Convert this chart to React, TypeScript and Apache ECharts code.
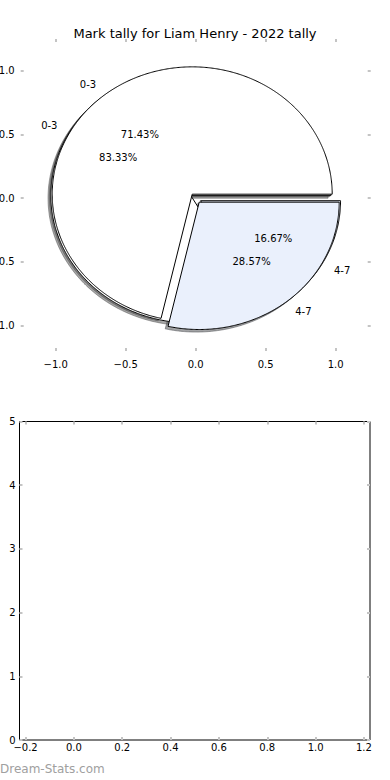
import React, { useEffect, useRef } from 'react';
import * as echarts from 'echarts';

const TITLE = 'Mark tally for Liam Henry - 2022 tally';
const WATERMARK = 'Dream-Stats.com';
const CATEGORIES = ['0-3', '4-7'];
// pie drawn on top (71.43% / 28.57%)
const PIE_A_VALUES = [5, 2];
// pie drawn underneath (83.33% / 16.67%)
const PIE_B_VALUES = [5, 1];
const WEDGE_COLORS = ['#ffffff', '#eaf0fc'];
const EXPLODE = [0.04, 0.04];
const PIE_X_TICKS = [-1, -0.5, 0, 0.5, 1];
const PIE_Y_TICKS = [-1, -0.5, 0, 0.5, 1];
const EMPTY_X_TICKS = [-0.2, 0, 0.2, 0.4, 0.6, 0.8, 1.0, 1.2];
const EMPTY_Y_TICKS = [0, 1, 2, 3, 4, 5];

const FONT = 'DejaVu Sans';
const TICK_COLOR = '#c4c4c4';

type Wedge = {
  t1: number; t2: number; cx: number; cy: number; tm: number;
  pct: number; label: string; color: string;
};

function buildWedges(values: number[]): Wedge[] {
  const total = values.reduce((a, b) => a + b, 0);
  let cum = 0;
  return values.map((v, i) => {
    const t1 = (360 * cum) / total;
    cum += v;
    const t2 = (360 * cum) / total;
    const tm = (((t1 + t2) / 2) * Math.PI) / 180;
    const ex = EXPLODE[i];
    return {
      t1, t2, tm,
      cx: ex * Math.cos(tm), cy: ex * Math.sin(tm),
      pct: (v / total) * 100, label: CATEGORIES[i], color: WEDGE_COLORS[i],
    };
  });
}

function wedgePoints(w: Wedge, ox: number, oy: number): number[][] {
  const pts: number[][] = [[w.cx + ox, w.cy + oy]];
  const steps = Math.max(2, Math.ceil((w.t2 - w.t1) / 0.5));
  for (let k = 0; k <= steps; k++) {
    const a = ((w.t1 + ((w.t2 - w.t1) * k) / steps) * Math.PI) / 180;
    pts.push([w.cx + ox + Math.cos(a), w.cy + oy + Math.sin(a)]);
  }
  return pts;
}

function shadowColor(hex: string): string {
  const r = parseInt(hex.slice(1, 3), 16) * 0.3;
  const g = parseInt(hex.slice(3, 5), 16) * 0.3;
  const b = parseInt(hex.slice(5, 7), 16) * 0.3;
  return `rgba(${Math.round(r)},${Math.round(g)},${Math.round(b)},0.5)`;
}

function fmt1(v: number): string {
  const s = Math.abs(v).toFixed(1);
  return v < -1e-9 ? '\u2212' + s : s;
}

export default function App() {
  const ref = useRef<HTMLDivElement>(null);

  useEffect(() => {
    if (!ref.current) return;
    const chart = echarts.init(ref.current, undefined, { renderer: 'svg' });

    const wedgesA = buildWedges(PIE_A_VALUES);
    const wedgesB = buildWedges(PIE_B_VALUES);
    const allWedges = [...wedgesA, ...wedgesB];

    type Txt = { x: number; y: number; text: string; align: string };
    const texts: Txt[] = [];
    [wedgesA, wedgesB].forEach((ws) => {
      ws.forEach((w) => {
        const lx = w.cx + 1.1 * Math.cos(w.tm);
        const ly = w.cy + 1.1 * Math.sin(w.tm);
        texts.push({ x: lx, y: ly, text: w.label, align: lx > 0 ? 'left' : 'right' });
        texts.push({
          x: w.cx + 0.6 * Math.cos(w.tm), y: w.cy + 0.6 * Math.sin(w.tm),
          text: w.pct.toFixed(2) + '%', align: 'center',
        });
      });
    });

    const wedgeSeries = (list: Wedge[], shadow: boolean, name: string) => ({
      type: 'custom',
      name,
      coordinateSystem: 'cartesian2d',
      xAxisIndex: 0,
      yAxisIndex: 0,
      silent: true,
      clip: false,
      encode: { x: 0, y: 1 },
      data: list.map(() => [0, 0]),
      renderItem: (params: any, api: any) => {
        const w = list[params.dataIndex];
        const o = shadow ? -0.02 : 0;
        const points = wedgePoints(w, o, o).map((p) => api.coord(p));
        const sc = shadowColor(w.color);
        return {
          type: 'polygon',
          shape: { points },
          style: shadow
            ? { fill: sc, stroke: sc, lineWidth: 1 }
            : { fill: w.color, stroke: '#000000', lineWidth: 1 },
        };
      },
    });

    const tickAxisCommon = (values: number[]) => ({
      axisLine: { show: false, onZero: false },
      axisTick: {
        show: true, inside: true, length: 3,
        lineStyle: { color: TICK_COLOR, width: 2 },
        customValues: values,
      },
      splitLine: { show: false },
    });

    const labelStyle = { color: '#000', fontSize: 10, fontFamily: FONT };

    const option: any = {
      animation: false,
      backgroundColor: '#ffffff',
      title: {
        text: TITLE,
        left: 'center',
        top: 22,
        textStyle: { color: '#000', fontSize: 13, fontWeight: 'normal', fontFamily: FONT },
      },
      grid: [
        { left: 20.7, right: 19.3, top: 39, height: 312, show: false, containLabel: false, outerBoundsMode: 'none' },
        {
          left: 19.5, right: 20, top: 421.5, bottom: 40, show: true, containLabel: false, outerBoundsMode: 'none',
          borderColor: '#000', borderWidth: 1, backgroundColor: 'transparent',
        },
      ],
      xAxis: [
        {
          type: 'value', gridIndex: 0, position: 'bottom', min: -1.25, max: 1.25,
          ...tickAxisCommon(PIE_X_TICKS),
          axisLabel: { ...labelStyle, margin: 8, customValues: PIE_X_TICKS, formatter: (v: number) => fmt1(v) },
        },
        {
          type: 'value', gridIndex: 0, position: 'top', min: -1.25, max: 1.25,
          ...tickAxisCommon(PIE_X_TICKS),
          axisLabel: { show: false },
        },
        {
          type: 'value', gridIndex: 1, position: 'bottom', min: -0.225, max: 1.225,
          ...tickAxisCommon(EMPTY_X_TICKS),
          axisLabel: { ...labelStyle, margin: 2, customValues: EMPTY_X_TICKS, formatter: (v: number) => fmt1(v) },
        },
        {
          type: 'value', gridIndex: 1, position: 'top', min: -0.225, max: 1.225,
          ...tickAxisCommon(EMPTY_X_TICKS),
          axisLabel: { show: false },
        },
      ],
      yAxis: [
        {
          type: 'value', gridIndex: 0, position: 'left', min: -1.2, max: 1.25,
          ...tickAxisCommon(PIE_Y_TICKS),
          axisLabel: { ...labelStyle, margin: 6, customValues: PIE_Y_TICKS, formatter: (v: number) => fmt1(v) },
        },
        {
          type: 'value', gridIndex: 0, position: 'right', min: -1.2, max: 1.25,
          ...tickAxisCommon(PIE_Y_TICKS),
          axisLabel: { show: false },
        },
        {
          type: 'value', gridIndex: 1, position: 'left', min: 0, max: 5, interval: 1,
          ...tickAxisCommon(EMPTY_Y_TICKS),
          axisLabel: { ...labelStyle, margin: 4, customValues: EMPTY_Y_TICKS, formatter: (v: number) => String(Math.round(v)) },
        },
        {
          type: 'value', gridIndex: 1, position: 'right', min: 0, max: 5, interval: 1,
          ...tickAxisCommon(EMPTY_Y_TICKS),
          axisLabel: { show: false },
        },
      ],
      series: [
        wedgeSeries(allWedges, true, 'shadows'),
        wedgeSeries(wedgesB, false, 'pieB'),
        wedgeSeries(wedgesA, false, 'pieA'),
        {
          type: 'custom',
          name: 'labels',
          coordinateSystem: 'cartesian2d',
          xAxisIndex: 0,
          yAxisIndex: 0,
          silent: true,
          clip: false,
          encode: { x: 0, y: 1 },
          data: texts.map((t) => [t.x, t.y]),
          renderItem: (params: any, api: any) => {
            const t = texts[params.dataIndex];
            const p = api.coord([t.x, t.y]);
            return {
              type: 'text',
              x: p[0],
              y: p[1],
              style: {
                text: t.text, fill: '#000', fontSize: 10, fontFamily: FONT,
                align: t.align, verticalAlign: 'middle',
              },
            };
          },
        },
      ],
      graphic: [
        {
          type: 'text', left: 0, top: 763,
          style: { text: WATERMARK, fill: '#a0a0a0', fontSize: 12, fontFamily: FONT },
        },
      ],
    };

    chart.setOption(option);
    return () => chart.dispose();
  }, []);

  return (
    <div
      ref={ref}
      style={{ position: 'fixed', left: 0, top: 0, width: 390, height: 780, background: '#fff' }}
    />
  );
}
